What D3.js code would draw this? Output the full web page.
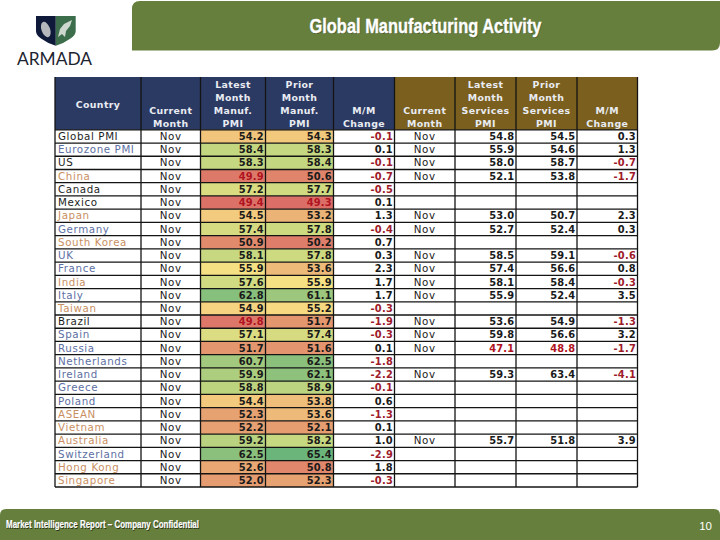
<!DOCTYPE html>
<html><head><meta charset="utf-8">
<script src="https://cdn.jsdelivr.net/npm/d3@7"></script>
<style>html,body{margin:0;padding:0;background:#fff}svg{display:block}</style>
</head><body><svg id="c" width="720" height="540"></svg>
<script>
const countries=["Global PMI","Eurozone PMI","US","China","Canada","Mexico","Japan","Germany","South Korea","UK","France","India","Italy","Taiwan","Brazil","Spain","Russia","Netherlands","Ireland","Greece","Poland","ASEAN","Vietnam","Australia","Switzerland","Hong Kong","Singapore"];
const regions=["w","e","w","a","w","w","a","e","a","e","e","a","e","a","w","e","e","e","e","e","e","a","a","a","e","a","a"];
const manufLatest=[54.2,58.4,58.3,49.9,57.2,49.4,54.5,57.4,50.9,58.1,55.9,57.6,62.8,54.9,49.8,57.1,51.7,60.7,59.9,58.8,54.4,52.3,52.2,59.2,62.5,52.6,52.0];
const manufPrior=[54.3,58.3,58.4,50.6,57.7,49.3,53.2,57.8,50.2,57.8,53.6,55.9,61.1,55.2,51.7,57.4,51.6,62.5,62.1,58.9,53.8,53.6,52.1,58.2,65.4,50.8,52.3];
const manufChange=[-0.1,0.1,-0.1,-0.7,-0.5,0.1,1.3,-0.4,0.7,0.3,2.3,1.7,1.7,-0.3,-1.9,-0.3,0.1,-1.8,-2.2,-0.1,0.6,-1.3,0.1,1.0,-2.9,1.8,-0.3];
const servLatest=[54.8,55.9,58.0,52.1,null,null,53.0,52.7,null,58.5,57.4,58.1,55.9,null,53.6,59.8,47.1,null,59.3,null,null,null,null,55.7,null,null,null];
const servPrior=[54.5,54.6,58.7,53.8,null,null,50.7,52.4,null,59.1,56.6,58.4,52.4,null,54.9,56.6,48.8,null,63.4,null,null,null,null,51.8,null,null,null];
const servChange=[0.3,1.3,-0.7,-1.7,null,null,2.3,0.3,null,-0.6,0.8,-0.3,3.5,null,-1.3,3.2,-1.7,null,-4.1,null,null,null,null,3.9,null,null,null];
const headers=[["Country"],["Current","Month"],["Latest","Month","Manuf.","PMI"],["Prior","Month","Manuf.","PMI"],["M/M","Change"],["Current","Month"],["Latest","Month","Services","PMI"],["Prior","Month","Services","PMI"],["M/M","Change"]];
const currentMonth="Nov";
const title="Global Manufacturing Activity";
const footer="Market Intelligence Report – Company Confidential";
const pageNo="10";

const svg=d3.select("#c");
const font="'DejaVu Sans',Verdana,sans-serif";
const arial="'Liberation Sans',Arial,sans-serif";
const GREEN="#667f3d",NAVY="#2b3a63",BROWN="#7a5f1f",RED="#9e1b2a",INK="#1a1a1a";
const edges=[55,141,200.5,265.5,333.5,394.5,455,516,577,637.5];
const colIdx=d3.range(9);
const colX=d3.scaleOrdinal().domain(colIdx).range(edges.slice(0,9));
const colW=i=>edges[i+1]-edges[i];
const rowY=d3.scaleBand().domain(d3.range(countries.length)).range([129.8,487]);
const heat=d3.scaleLinear().domain([49,52,55.7,58,62,65.4]).range(["#da6a66","#e59c70","#f9e284","#c9d980","#8fc27c","#6cb57a"]);
const regionColor=d3.scaleOrdinal().domain(["w","e","a"]).range(["#1e1e1e","#5d6fa3","#c98f62"]);

function band(x,y,w,h,rad,corners,fill){
  const [tl,tr,br,bl]=corners.map(c=>c?rad:0);
  const p=d3.path();
  p.moveTo(x+tl,y);p.lineTo(x+w-tr,y);
  if(tr)p.quadraticCurveTo(x+w,y,x+w,y+tr);
  p.lineTo(x+w,y+h-br);
  if(br)p.quadraticCurveTo(x+w,y+h,x+w-br,y+h);
  p.lineTo(x+bl,y+h);
  if(bl)p.quadraticCurveTo(x,y+h,x,y+h-bl);
  p.lineTo(x,y+tl);
  if(tl)p.quadraticCurveTo(x,y,x+tl,y);
  p.closePath();
  svg.append("path").attr("d",p.toString()).attr("fill",fill);
}
band(132,1,588,49.5,8,[1,0,1,0],GREEN);
band(0,509,720,31,6,[1,1,0,0],GREEN);
function shadowText(t,x,y,size,len,sw,shadow){
  [[shadow,0.7,0.7,0],["#fff",0,0,sw]].forEach(([c,dx,dy,s])=>{
    svg.append("text").attr("x",x+dx).attr("y",y+dy).attr("fill",c).attr("stroke",c).attr("stroke-width",s).attr("font-family",arial)
      .attr("font-weight","bold").attr("font-size",size).text(t)
      .attr("textLength",len).attr("lengthAdjust","spacingAndGlyphs");
  });
}
shadowText(title,309.5,32.8,20.5,232,0.35,"#4a5c2c");
shadowText(footer,6,528,11.5,193,0.2,"#2a3318");
svg.append("text").attr("x",712).attr("y",530).attr("text-anchor","end").attr("fill","#fff")
  .attr("font-family",arial).attr("font-size",11.5).text(pageNo);

// logo
const logo=svg.append("g");
logo.append("path").attr("d","M36 16H55.8V45.8Q47 43 41 38.5Q36 35 36 31Z").attr("fill","#0f1a3a");
logo.append("path").attr("d","M55.8 16H75.7V31Q75.7 35 70.5 38.5Q64.5 43 55.8 45.8Z").attr("fill","#3d6e4c");
logo.append("ellipse").attr("cx",45.8).attr("cy",29.5).attr("rx",4.3).attr("ry",8).attr("transform","rotate(-20 45.8 29.5)").attr("fill","#b4b7bb");
logo.append("path").attr("d","M72 20L64 24L60 29L58 37L62 34L65 37L66 31L70 26Z").attr("fill","#cfd8cf");
logo.append("text").attr("x",54.5).attr("y",65).attr("text-anchor","middle").attr("fill","#1c2430")
  .attr("font-family","'Lato','Liberation Sans',sans-serif").attr("font-size",17).attr("textLength",75).attr("lengthAdjust","spacingAndGlyphs").text("ARMADA");

// table
const table=svg.append("g");
colIdx.forEach(i=>{
  table.append("rect").attr("x",colX(i)).attr("y",77).attr("width",colW(i)).attr("height",rowY(0)-77)
    .attr("fill",i<5?NAVY:BROWN);
  const lines=headers[i];
  const lh=13;
  const base=i===0?108:127.3;
  lines.forEach((l,k)=>{
    table.append("text").attr("x",colX(i)+colW(i)/2).attr("y",base-(lines.length-1-k)*lh)
      .attr("text-anchor","middle").attr("fill","#e9ecf2").attr("font-family",font)
      .attr("font-weight","bold").attr("font-size",9.4).attr("letter-spacing",0.4).text(l);
  });
});

const columns=[null,null,manufLatest,manufPrior,manufChange,null,servLatest,servPrior,servChange];
const fmt=d3.formatLocale({decimal:".",thousands:",",grouping:[3],currency:["$",""],minus:"-"}).format(".1f");
const rows=table.selectAll("g.row").data(d3.range(countries.length)).join("g").attr("class","row")
  .attr("transform",r=>`translate(0,${rowY(r)})`);
const h=rowY.bandwidth();
const textY=h-3;
[2,3].forEach(c=>{
  rows.append("rect").attr("x",colX(c)).attr("y",0).attr("width",colW(c)).attr("height",h)
    .attr("fill",r=>heat(columns[c][r]));
});
rows.append("text").attr("x",colX(0)+3).attr("y",textY).attr("font-family",font).attr("font-size",10.3).attr("letter-spacing",0.6)
  .attr("fill",r=>regionColor(regions[r])).text(r=>countries[r]);
rows.append("text").attr("x",colX(1)+colW(1)/2).attr("y",textY).attr("text-anchor","middle")
  .attr("font-family",font).attr("font-size",10.3).attr("letter-spacing",0.6).attr("fill",INK).text(currentMonth);
rows.filter(r=>servLatest[r]!==null).append("text").attr("x",colX(5)+colW(5)/2).attr("y",textY).attr("text-anchor","middle")
  .attr("font-family",font).attr("font-size",10.3).attr("letter-spacing",0.6).attr("fill",INK).text(currentMonth);
[2,3,4,6,7,8].forEach(c=>{
  rows.filter(r=>columns[c][r]!==null).append("text")
    .attr("x",colX(c)+colW(c)-1.5).attr("y",textY).attr("text-anchor","end")
    .attr("font-family",font).attr("font-weight","bold").attr("font-size",9.9).attr("letter-spacing",0.25)
    .attr("fill",r=>{
      const v=columns[c][r];
      if(c===4||c===8) return v<0?RED:INK;
      return v<50?"#b01220":INK;
    })
    .text(r=>fmt(columns[c][r]));
});
const grid=table.append("g").attr("stroke","#141414").attr("stroke-width",1.3);
edges.forEach(x=>grid.append("line").attr("x1",x).attr("x2",x).attr("y1",77).attr("y2",487));
d3.range(countries.length+1).forEach(r=>{
  const y=r===countries.length?487:rowY(r);
  grid.append("line").attr("x1",55).attr("x2",637.5).attr("y1",y).attr("y2",y);
});
</script></body></html>
